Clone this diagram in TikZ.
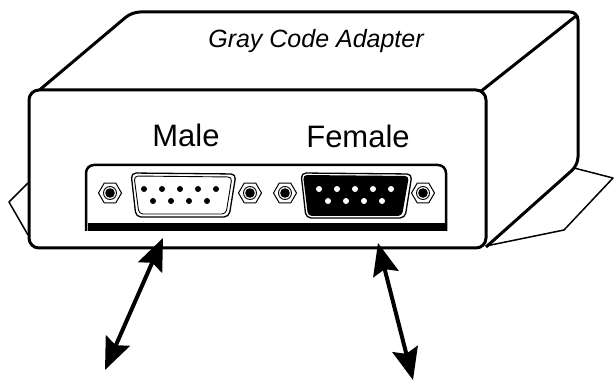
\documentclass[tikz,border=0pt]{standalone}
\usepackage{fontspec}
\setmainfont{Liberation Sans}
\usetikzlibrary{arrows.meta,shapes,positioning}

\begin{document}
\begin{tikzpicture}[x=1pt,y=-1pt,
        nut/.style={draw,fill=white,regular polygon,regular polygon sides=6,minimum size=23pt,inner sep=0pt,line width=1pt},
        pin/.style={circle,inner sep=0pt,minimum size=6pt},
        link/.style={line width=4pt,{Stealth[length=32pt,width=26pt,inset=5pt]}-{Stealth[length=32pt,width=26pt,inset=5pt]}}]
            \useasboundingbox (0,0) rectangle (614,385);
            % tabs behind the box
            \draw[line width=1.5pt,line join=round] (28,183) -- (9,202) -- (28,235);
            \draw[line width=1.5pt,line join=round] (574,168) -- (613,178) -- (564,230) -- (486,246);
            % box
            \draw[line width=3pt,rounded corners=8pt] (30,98) -- (132,12) -- (578,12) -- (578,165) -- (486,247);
            \draw[line width=3pt] (576,16) -- (480,92);
            \draw[line width=3pt,fill=white,rounded corners=10pt] (29,90) rectangle (486,248);
            % connector panel
            \draw[line width=2.5pt,rounded corners=8pt] (86,231) -- (86,165) -- (446,165) -- (446,231);
            \fill (88,223) rectangle (447.25,231);
            % male shell
            \draw[line width=1.3pt,rounded corners=5pt] (131,173) -- (236,174) -- (229,217) -- (136,217) -- cycle;
            \draw[line width=0.9pt,rounded corners=4pt] (134,176) -- (232,177) -- (226,214) -- (139,214) -- cycle;
            % female shell
            \draw[line width=1.3pt,rounded corners=5pt] (301,173) -- (412,174) -- (405,218) -- (306,218) -- cycle;
            \fill[rounded corners=4pt] (303,175) -- (409,176) -- (402,216) -- (308,216) -- cycle;
            \foreach \i in {0,...,4} {
                \node[pin,fill=black] (mt\i) at (144+18*\i,189) {};
                \node[pin,fill=white] (ft\i) at (319+18*\i,189) {};
            }
            \foreach \i in {0,...,3} {
                \node[pin,fill=black] (mb\i) at (153+18*\i,201) {};
                \node[pin,fill=white] (fb\i) at (328+18*\i,201) {};
            }
            % nuts
            \foreach \n/\x in {nutA/110,nutB/250,nutC/285,nutD/423} {
                \node[nut] (\n) at (\x,193) {};
                \draw[line width=0.9pt] (\n.center) circle (6.5pt);
                \fill (\n.center) circle (4.8pt);
            }
            \node[font=\fontsize{25}{25}\selectfont\itshape] (title) at (316,41) {Gray Code Adapter};
            \node[font=\fontsize{31}{31}\selectfont,anchor=base] (male) at (186,147) {Male};
            \node[font=\fontsize{31}{31}\selectfont,anchor=base] (female) at (358,148) {Female};
            % cables
            \coordinate (maleTop) at (163,238);
            \coordinate (maleEnd) at (105,370);
            \coordinate (femTop) at (378,243);
            \coordinate (femEnd) at (413,380);
            \draw[link] (maleTop) -- (maleEnd);
            \draw[link] (femTop) -- (femEnd);
        \end{tikzpicture}
\end{document}
